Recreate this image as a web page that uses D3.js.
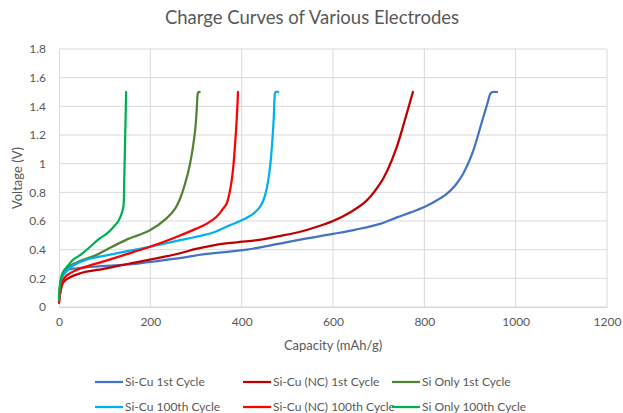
<!DOCTYPE html>
<html>
<head>
<meta charset="utf-8">
<script src="https://cdn.jsdelivr.net/npm/d3@7"></script>
<style>
  body { margin: 0; background: #fff; }
  text { font-family: Lato, "Open Sans", sans-serif; fill: #595959; }
  .grid line { stroke: #d9d9d9; stroke-width: 1; }
  .tick text { font-size: 12px; }
</style>
</head>
<body>
<div id="chart"></div>
<script>
// series names + colours (legend order: row 1 then row 2)
var seriesNames = ["Si-Cu 1st Cycle", "Si-Cu (NC) 1st Cycle", "Si Only 1st Cycle",
                   "Si-Cu 100th Cycle", "Si-Cu (NC) 100th Cycle", "Si Only 100th Cycle"];
var seriesColors = ["#4472c4", "#c00000", "#548235", "#00b0f0", "#ff0000", "#00b050"];

// [capacity mAh/g, voltage V]
var siCu1st = [[0,0.06],[2,0.14],[5,0.2],[10,0.24],[17,0.26],[40,0.27],[68,0.28],[120,0.29],[177,0.305],
  [250,0.335],[323,0.37],[411,0.40],[480,0.44],[528,0.47],[600,0.51],[650,0.54],[703,0.58],[740,0.625],
  [770,0.66],[801,0.70],[825,0.74],[849,0.79],[868,0.85],[885,0.93],[906,1.08],[925,1.28],[938,1.42],
  [945,1.49],[949,1.5],[959,1.5]];
var siCuNC1st = [[0,0.03],[3,0.1],[9,0.17],[20,0.2],[46,0.235],[104,0.27],[150,0.3],[199,0.33],[265,0.375],
  [300,0.405],[338,0.43],[370,0.445],[396,0.454],[430,0.465],[455,0.477],[484,0.495],[528,0.525],
  [565,0.56],[600,0.60],[640,0.665],[673,0.74],[703,0.86],[720,0.96],[739,1.11],[757,1.3],[775,1.5]];
var siOnly1st = [[0,0.06],[3,0.16],[8,0.22],[20,0.28],[46,0.32],[80,0.36],[104,0.40],[148,0.47],[199,0.535],
  [236,0.62],[255,0.69],[265,0.755],[276,0.86],[287,1.0],[298,1.23],[302,1.4],[304,1.49],[306,1.5],[308,1.5]];
var siCu100th = [[0,0.05],[2,0.12],[5,0.18],[9,0.22],[20,0.26],[31,0.29],[60,0.33],[104,0.36],[150,0.39],
  [199,0.42],[265,0.466],[300,0.49],[338,0.52],[374,0.57],[400,0.605],[425,0.65],[438,0.69],[447,0.74],
  [453,0.8],[458,0.88],[463,1.0],[466,1.11],[470,1.3],[472,1.45],[474,1.5],[480,1.5]];
var siCuNC100th = [[0,0.03],[3,0.12],[8,0.18],[17,0.22],[40,0.26],[68,0.29],[100,0.32],[140,0.36],[199,0.42],
  [250,0.48],[301,0.547],[323,0.58],[345,0.63],[358,0.68],[367,0.72],[373,0.79],[378,0.88],[382,0.99],
  [385,1.11],[389,1.3],[392,1.5]];
var siOnly100th = [[0,0.05],[2,0.15],[5,0.21],[10,0.25],[20,0.29],[31,0.33],[50,0.37],[68,0.42],[90,0.48],
  [104,0.51],[120,0.56],[130,0.6],[137,0.65],[141,0.7],[143,0.9],[145,1.2],[147,1.5]];

var seriesData = [siCu1st, siCuNC1st, siOnly1st, siCu100th, siCuNC100th, siOnly100th];

var xTicks = [0, 200, 400, 600, 800, 1000, 1200];
var yTicks = [0, 0.2, 0.4, 0.6, 0.8, 1, 1.2, 1.4, 1.6, 1.8];

var width = 623, height = 413;
var pLeft = 59, pRight = 607, pTop = 49, pBottom = 307;

var svg = d3.select("#chart").append("svg").attr("width", width).attr("height", height);

var xscale = d3.scaleLinear().domain([0, 1200]).range([pLeft, pRight]);
var yscale = d3.scaleLinear().domain([0, 1.8]).range([pBottom, pTop]);

// gridlines
svg.append("g").attr("class", "grid")
  .selectAll("line").data(yTicks).enter().append("line")
  .attr("x1", pLeft).attr("x2", pRight)
  .attr("y1", function(d) { return yscale(d); }).attr("y2", function(d) { return yscale(d); });
svg.append("g").attr("class", "grid")
  .selectAll("line").data(xTicks.slice(1)).enter().append("line")
  .attr("y1", pTop).attr("y2", pBottom)
  .attr("x1", function(d) { return xscale(d); }).attr("x2", function(d) { return xscale(d); });

// axes
var xx = d3.axisBottom(xscale).tickValues(xTicks).tickSize(0).tickPadding(10).tickFormat(d3.format("d"));
var yy = d3.axisLeft(yscale).tickValues(yTicks).tickSize(0).tickPadding(13).tickFormat(d3.format("~g"));

var gx = svg.append("g").attr("transform", "translate(0," + pBottom + ")").call(xx);
gx.select(".domain").attr("stroke", "#d9d9d9");
var gy = svg.append("g").attr("transform", "translate(" + pLeft + ",0)").call(yy);
gy.select(".domain").attr("stroke", "#d9d9d9");
svg.selectAll(".tick text").attr("fill", "#595959").style("font-family", "Lato, sans-serif");

// titles
svg.append("text").attr("x", 312).attr("y", 24).attr("text-anchor", "middle")
  .style("font-size", "18.5px").text("Charge Curves of Various Electrodes");
svg.append("text").attr("x", (pLeft + pRight) / 2).attr("y", 350).attr("text-anchor", "middle")
  .style("font-size", "13px").text("Capacity (mAh/g)");
svg.append("text").attr("transform", "translate(22," + ((pTop + pBottom) / 2) + ")rotate(-90)")
  .attr("text-anchor", "middle").style("font-size", "13px").text("Voltage (V)");

// curves
var line = d3.line()
  .x(function(d) { return xscale(d[0]); })
  .y(function(d) { return yscale(d[1]); })
  .curve(d3.curveCatmullRom.alpha(0.5));

svg.append("g").selectAll("path").data(seriesData).enter().append("path")
  .attr("d", line)
  .attr("fill", "none")
  .attr("stroke", function(d, i) { return seriesColors[i]; })
  .attr("stroke-width", 2.25)
  .attr("stroke-linejoin", "round")
  .attr("stroke-linecap", "round");

// legend
var legX = [95, 243, 392], legY = [382, 407];
var leg = svg.append("g").selectAll("g").data(seriesNames).enter().append("g")
  .attr("transform", function(d, i) { return "translate(" + legX[i % 3] + "," + legY[Math.floor(i / 3)] + ")"; });
leg.append("line").attr("x1", 0).attr("x2", 28).attr("y1", 0).attr("y2", 0)
  .attr("stroke", function(d, i) { return seriesColors[i]; }).attr("stroke-width", 2.25);
leg.append("text").attr("x", 30).attr("y", 4).style("font-size", "12px").text(function(d) { return d; });
</script>
</body>
</html>
